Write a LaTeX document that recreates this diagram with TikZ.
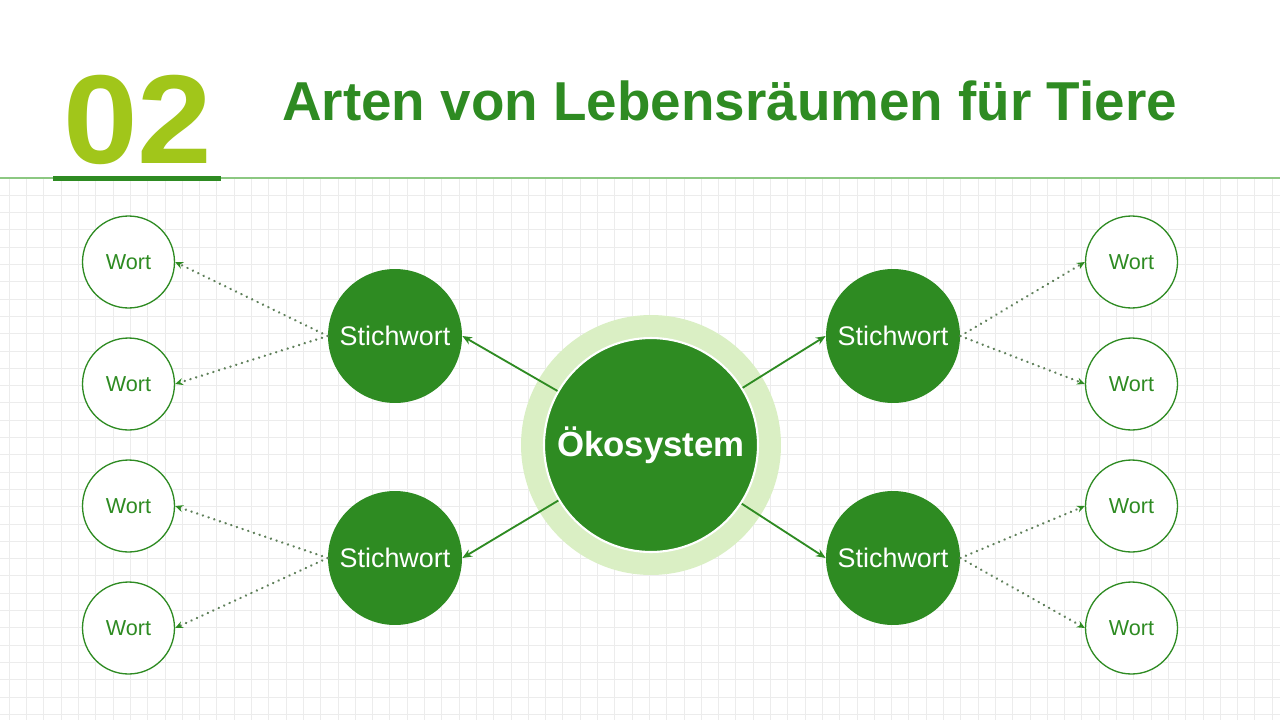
\documentclass[tikz,border=0pt]{standalone}
\usepackage{fontspec}
\setmainfont{Liberation Sans}
\usepackage{xcolor}
\usepackage{tikz}
\usetikzlibrary{arrows.meta}
\definecolor{dkgreen}{RGB}{46,139,34}
\definecolor{lime}{RGB}{161,198,26}
\definecolor{halo}{RGB}{218,239,196}
\definecolor{rulegreen}{RGB}{140,200,130}
\definecolor{gridgray}{RGB}{236,236,236}
\definecolor{dotgreen}{RGB}{95,128,90}
\begin{document}
\begin{tikzpicture}[x=0.02cm,y=-0.02cm]
\tikzstyle{every node}+=[inner sep=0pt]
\tikzstyle{gridline}=[gridgray, line width=0.5pt]
\tikzstyle{keyword}=[circle, fill=dkgreen, minimum size=2.68cm, text=white, font=\fontsize{15.3}{16}\selectfont]
\tikzstyle{word}=[circle, draw=dkgreen, fill=white, line width=0.75pt, minimum size=1.84cm, text=dkgreen, font=\fontsize{12.3}{13}\selectfont]
\tikzstyle{mainlink}=[dkgreen, line width=1.05pt, -{Stealth[length=5.5pt,width=4.5pt]}]
\tikzstyle{sublink}=[dotgreen, line width=1.5pt, line cap=round, dash pattern=on 0.01pt off 3.4pt, -{Stealth[length=4.5pt,width=4pt,color=dkgreen]}]
\useasboundingbox (0,0) rectangle (1280,720);
\fill[white] (0,0) rectangle (1280,720);
\foreach \i in {0,...,73} \draw[gridline] ({9.3+17.3*\i},178) -- ({9.3+17.3*\i},720);
\foreach \j in {1,...,31} \draw[gridline] (0,{178+17.3*\j}) -- (1280,{178+17.3*\j});
\draw[rulegreen, line width=0.85pt] (0,178) -- (1280,178);
\fill[dkgreen] (53,176) rectangle (221,181);
\node[anchor=base west, xscale=1.06, text=lime, font=\fontsize{72}{72}\selectfont\bfseries] (num) at (63,163) {02};
\node[anchor=base west, text=dkgreen, font=\fontsize{31.2}{32}\selectfont\bfseries] (title) at (282,120) {Arten von Lebensräumen für Tiere};
\node[circle, fill=halo, minimum size=5.2cm] (ring) at (651,445) {};
\node[circle, fill=dkgreen, draw=white, line width=1.2pt, minimum size=4.28cm, text=white, font=\fontsize{19.8}{20}\selectfont\bfseries] (eco) at (651,445) {Ökosystem};
\node[keyword] (kwa) at (395,336) {Stichwort};
\node[keyword] (kwb) at (395,558) {Stichwort};
\node[keyword] (kwc) at (893,336) {Stichwort};
\node[keyword] (kwd) at (893,558) {Stichwort};
\node[word] (wa1) at (128.5,262) {Wort};
\node[word] (wa2) at (128.5,384) {Wort};
\node[word] (wb1) at (128.5,506) {Wort};
\node[word] (wb2) at (128.5,628) {Wort};
\node[word] (wc1) at (1131.5,262) {Wort};
\node[word] (wc2) at (1131.5,384) {Wort};
\node[word] (wd1) at (1131.5,506) {Wort};
\node[word] (wd2) at (1131.5,628) {Wort};
\draw[mainlink] (eco) -- (kwa.east);
\draw[mainlink] (eco) -- (kwb.east);
\draw[mainlink] (eco) -- (kwc.west);
\draw[mainlink] (eco) -- (kwd.west);
\draw[sublink] (kwa.west) -- (wa1.east);
\draw[sublink] (kwa.west) -- (wa2.east);
\draw[sublink] (kwb.west) -- (wb1.east);
\draw[sublink] (kwb.west) -- (wb2.east);
\draw[sublink] (kwc.east) -- (wc1.west);
\draw[sublink] (kwc.east) -- (wc2.west);
\draw[sublink] (kwd.east) -- (wd1.west);
\draw[sublink] (kwd.east) -- (wd2.west);
\end{tikzpicture}
\end{document}
